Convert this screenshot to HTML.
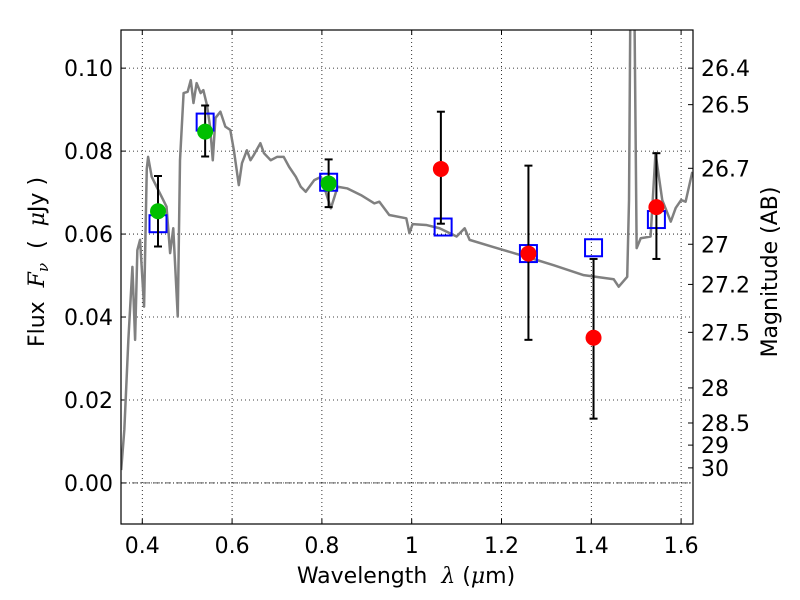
<!DOCTYPE html>
<html><head><meta charset="utf-8"><style>
html,body{margin:0;padding:0;background:#fff;}
svg{display:block;font-family:"DejaVu Sans","Liberation Sans",sans-serif;}
</style></head><body>
<svg id="chart" width="800" height="600" viewBox="0 0 800 600" xmlns="http://www.w3.org/2000/svg"></svg>
<script>
const xTicks=[0.4,0.6,0.8,1.0,1.2,1.4,1.6];
const xTickLabels=["0.4","0.6","0.8","1","1.2","1.4","1.6"];
const yTicks=[0,0.02,0.04,0.06,0.08,0.10];
const yTickLabels=["0.00","0.02","0.04","0.06","0.08","0.10"];
const magTicks=[26.4,26.5,26.7,27,27.2,27.5,28,28.5,29,30];
const specLambda=[0.353,0.360,0.369,0.378,0.384,0.389,0.395,0.404,0.410,0.413,0.421,0.432,0.443,0.454,0.462,0.469,0.479,0.484,0.492,0.501,0.508,0.514,0.521,0.530,0.536,0.544,0.551,0.557,0.563,0.574,0.585,0.596,0.604,0.615,0.622,0.633,0.641,0.648,0.663,0.671,0.686,0.700,0.715,0.727,0.742,0.753,0.764,0.783,0.798,0.820,0.835,0.857,0.887,0.917,0.928,0.950,0.988,0.995,1.002,1.032,1.062,1.100,1.118,1.129,1.181,1.256,1.316,1.383,1.450,1.461,1.480,1.484,1.487,1.496,1.501,1.510,1.532,1.543,1.558,1.577,1.588,1.600,1.610,1.625];
const specFlux=[0.0031,0.0128,0.0345,0.0521,0.0345,0.0561,0.0586,0.0425,0.0757,0.0786,0.0738,0.0714,0.0690,0.0666,0.0554,0.0614,0.0401,0.0778,0.0940,0.0943,0.0971,0.0916,0.0964,0.0940,0.0947,0.0911,0.0859,0.0778,0.0880,0.0895,0.0859,0.0851,0.0802,0.0718,0.0771,0.0802,0.0778,0.0790,0.0819,0.0795,0.0778,0.0786,0.0786,0.0762,0.0738,0.0714,0.0702,0.0730,0.0738,0.0662,0.0714,0.0710,0.0694,0.0674,0.0678,0.0646,0.0638,0.0602,0.0624,0.0622,0.0614,0.0594,0.0614,0.0586,0.0569,0.0545,0.0525,0.0501,0.0491,0.0473,0.0497,0.0682,0.115,0.115,0.0566,0.0590,0.0594,0.0795,0.0682,0.0630,0.0663,0.0682,0.0678,0.0750];
const greenLambda=[0.435,0.54,0.815];
const greenFlux=[0.0655,0.0847,0.0722];
const greenLo=[0.057,0.0787,0.0665];
const greenHi=[0.074,0.091,0.078];
const redLambda=[1.065,1.26,1.405,1.545];
const redFlux=[0.0757,0.0553,0.035,0.0665];
const redLo=[0.0625,0.0345,0.0155,0.054];
const redHi=[0.0895,0.0765,0.054,0.0795];
const modelLambda=[0.435,0.54,0.815,1.07,1.26,1.405,1.545];
const modelFlux=[0.0625,0.0870,0.0725,0.0617,0.0553,0.0567,0.0635];

const L=121,R=693,T=30,B=524;
const xmin=0.3526,xmax=1.6265,ymin=-0.0099,ymax=0.1092;
const X=v=>L+(v-xmin)/(xmax-xmin)*(R-L);
const Y=v=>B-(v-ymin)/(ymax-ymin)*(B-T);
const svg=document.getElementById('chart');
const NS='http://www.w3.org/2000/svg';
function mk(tag,attrs,parent){const e=document.createElementNS(NS,tag);for(const k in attrs)e.setAttribute(k,attrs[k]);(parent||svg).appendChild(e);return e;}

const defs=mk('defs',{});
const cp=mk('clipPath',{id:'clip'},defs);
mk('rect',{x:L,y:T,width:R-L,height:B-T},cp);

xTicks.forEach((t,i)=>{
  const g=mk('line',{x1:X(t),x2:X(t),y1:T,y2:B,stroke:'#000','stroke-width':0.8,'stroke-dasharray':'1,3'});
  
  
  mk('line',{x1:X(t),x2:X(t),y1:B,y2:B-5,stroke:'#000'});
  mk('line',{x1:X(t),x2:X(t),y1:T,y2:T+5,stroke:'#000'});
  const tx=mk('text',{x:X(t),y:B+29,'text-anchor':'middle','font-size':22});
  tx.textContent=xTickLabels[i];
  
  
});
yTicks.forEach((t,i)=>{
  const g=mk('line',{x1:L,x2:R,y1:Y(t),y2:Y(t),stroke:'#000','stroke-width':0.8,'stroke-dasharray':'1,3'});
  
  
  mk('line',{x1:L,x2:L+5,y1:Y(t),y2:Y(t),stroke:'#000'});
  const tx=mk('text',{x:L-8,y:Y(t)+8,'text-anchor':'end','font-size':22});
  tx.textContent=yTickLabels[i];
  
  
});
const z=mk('line',{x1:L,x2:R,y1:Y(0),y2:Y(0),stroke:'#000','stroke-width':0.6,'stroke-dasharray':'6,2,1,2'});



magTicks.forEach(m=>{
  const f=Math.pow(10,-(m-23.9)/2.5);
  const y=Y(f);
  mk('line',{x1:R,x2:R-5,y1:y,y2:y,stroke:'#000'});
  const tx=mk('text',{x:R+8,y:y+8,'font-size':22});
  tx.textContent=String(m);
  
  
});

const gline=mk('g',{'clip-path':'url(#clip)'});
const sp=mk('polyline',{points:specLambda.map((l,i)=>X(l)+','+Y(specFlux[i])).join(' '),fill:'none',stroke:'#808080','stroke-width':2.5,'stroke-linejoin':'round'},gline);



modelLambda.forEach((l,i)=>{
  const r=mk('rect',{x:X(l)-8.5,y:Y(modelFlux[i])-8.5,width:17,height:17,fill:'none',stroke:'#0000ff','stroke-width':2});
  
  
});
function errs(lams,lo,hi){
  lams.forEach((l,i)=>{
    const x=X(l);
    const e=mk('line',{x1:x,x2:x,y1:Y(lo[i]),y2:Y(hi[i]),stroke:'#000','stroke-width':2});
    
    
    mk('line',{x1:x-4,x2:x+4,y1:Y(lo[i]),y2:Y(lo[i]),stroke:'#000','stroke-width':2});
    mk('line',{x1:x-4,x2:x+4,y1:Y(hi[i]),y2:Y(hi[i]),stroke:'#000','stroke-width':2});
  });
}
errs(greenLambda,greenLo,greenHi);
errs(redLambda,redLo,redHi);
greenLambda.forEach((l,i)=>{
  const c=mk('circle',{cx:X(l),cy:Y(greenFlux[i]),r:8,fill:'#00bf00'});
  
  
});
redLambda.forEach((l,i)=>{
  const c=mk('circle',{cx:X(l),cy:Y(redFlux[i]),r:8,fill:'#ff0000'});
  
  
});

const fr=mk('rect',{x:L,y:T,width:R-L,height:B-T,fill:'none',stroke:'#000','stroke-width':1.2});



const xt=mk('text',{x:406,y:583,'text-anchor':'middle','font-size':22});
xt.innerHTML='Wavelength\u00a0\u00a0<tspan font-style="italic" font-family="DejaVu Serif, serif">λ</tspan> (<tspan font-style="italic" font-family="DejaVu Serif, serif">μ</tspan>m)';


const yt=mk('text',{x:0,y:0,'text-anchor':'middle','font-size':22,transform:'translate(44,262) rotate(-90)'});
yt.innerHTML='Flux\u00a0\u00a0<tspan font-style="italic" font-family="DejaVu Serif, serif">F</tspan><tspan font-size="15" dy="4" font-style="italic" font-family="DejaVu Serif, serif">ν</tspan><tspan dy="-4">\u00a0\u00a0(\u00a0\u00a0</tspan><tspan font-style="italic" font-family="DejaVu Serif, serif">μ</tspan>Jy )';


const rt=mk('text',{x:0,y:0,'text-anchor':'middle','font-size':22,transform:'translate(777,272) rotate(-90)'});
rt.textContent='Magnitude (AB)';


</script>
</body></html>
